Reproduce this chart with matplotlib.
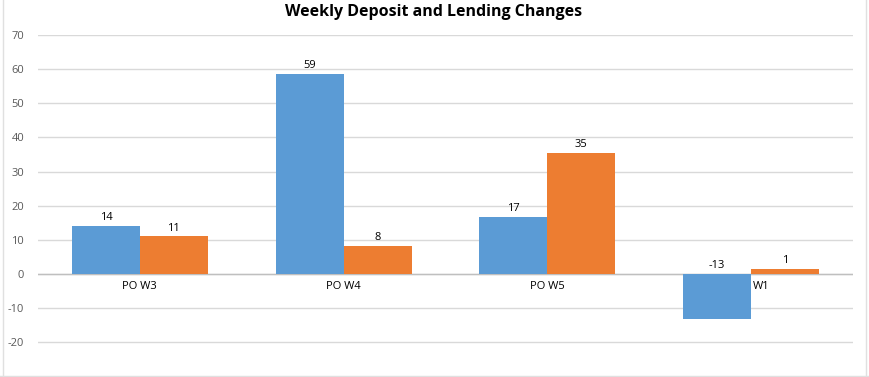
import matplotlib.pyplot as plt
import numpy as np
from matplotlib.lines import Line2D

categories = ["PO W3", "PO W4", "PO W5", "W1"]
deposits = [14.0, 58.6, 16.8, -13.2]
lending = [11.0, 8.3, 35.4, 1.4]
yticks = [-20, -10, 0, 10, 20, 30, 40, 50, 60, 70]

BLUE = "#5B9BD5"
ORANGE = "#ED7D31"
GRID = "#D9D9D9"

plt.rcParams["font.family"] = ["Open Sans", "DejaVu Sans"]

W, H = 869, 377
fig = plt.figure(figsize=(W / 100, H / 100), dpi=100)
ax = fig.add_axes([38 / W, 0, (853 - 38) / W, (377 - 35) / H])

x = np.arange(len(categories))
bw = 1 / 3
b1 = ax.bar(x - bw / 2, deposits, bw, color=BLUE, zorder=3)
b2 = ax.bar(x + bw / 2, lending, bw, color=ORANGE, zorder=3)

for bars, vals in ((b1, deposits), (b2, lending)):
    for bar, v in zip(bars, vals):
        ax.annotate(f"{v:.0f}", (bar.get_x() + bar.get_width() / 2, max(v, 0)),
                    xytext=(0, 2), textcoords="offset points",
                    ha="center", va="bottom", fontsize=8, color="black")

for i, (cat, d) in enumerate(zip(categories, deposits)):
    if d < 0:
        ax.text(i + 0.01, -2.0, cat, ha="left", va="top", fontsize=8)
    else:
        ax.text(i, -2.0, cat, ha="center", va="top", fontsize=8)

ax.set_xlim(-0.5, len(categories) - 0.5)
ax.set_ylim(-30.2, 70)
ax.set_yticks(yticks)
ax.set_yticklabels([str(t) for t in yticks], fontsize=8, color="#595959")
ax.set_xticks([])
ax.tick_params(axis="y", length=0, pad=10)
ax.grid(axis="y", color=GRID, linewidth=1, zorder=0)
ax.axhline(0, color="#BFBFBF", linewidth=1, zorder=2)
for s in ax.spines.values():
    s.set_visible(False)

fig.text(434 / W, 1 - 12 / H, "Weekly Deposit and Lending Changes",
         ha="center", va="center", fontsize=11.5, fontweight="bold")

# faint sheet cell borders around the chart
fig.add_artist(Line2D([3 / W, 3 / W], [0, 1], color="#E0E0E0", lw=1))
fig.add_artist(Line2D([0, 1], [1.5 / H, 1.5 / H], color="#E0E0E0", lw=1))
fig.add_artist(Line2D([866 / W, 866 / W], [0, 1], color="#E0E0E0", lw=1))

fig.savefig("out.png", dpi=100)
